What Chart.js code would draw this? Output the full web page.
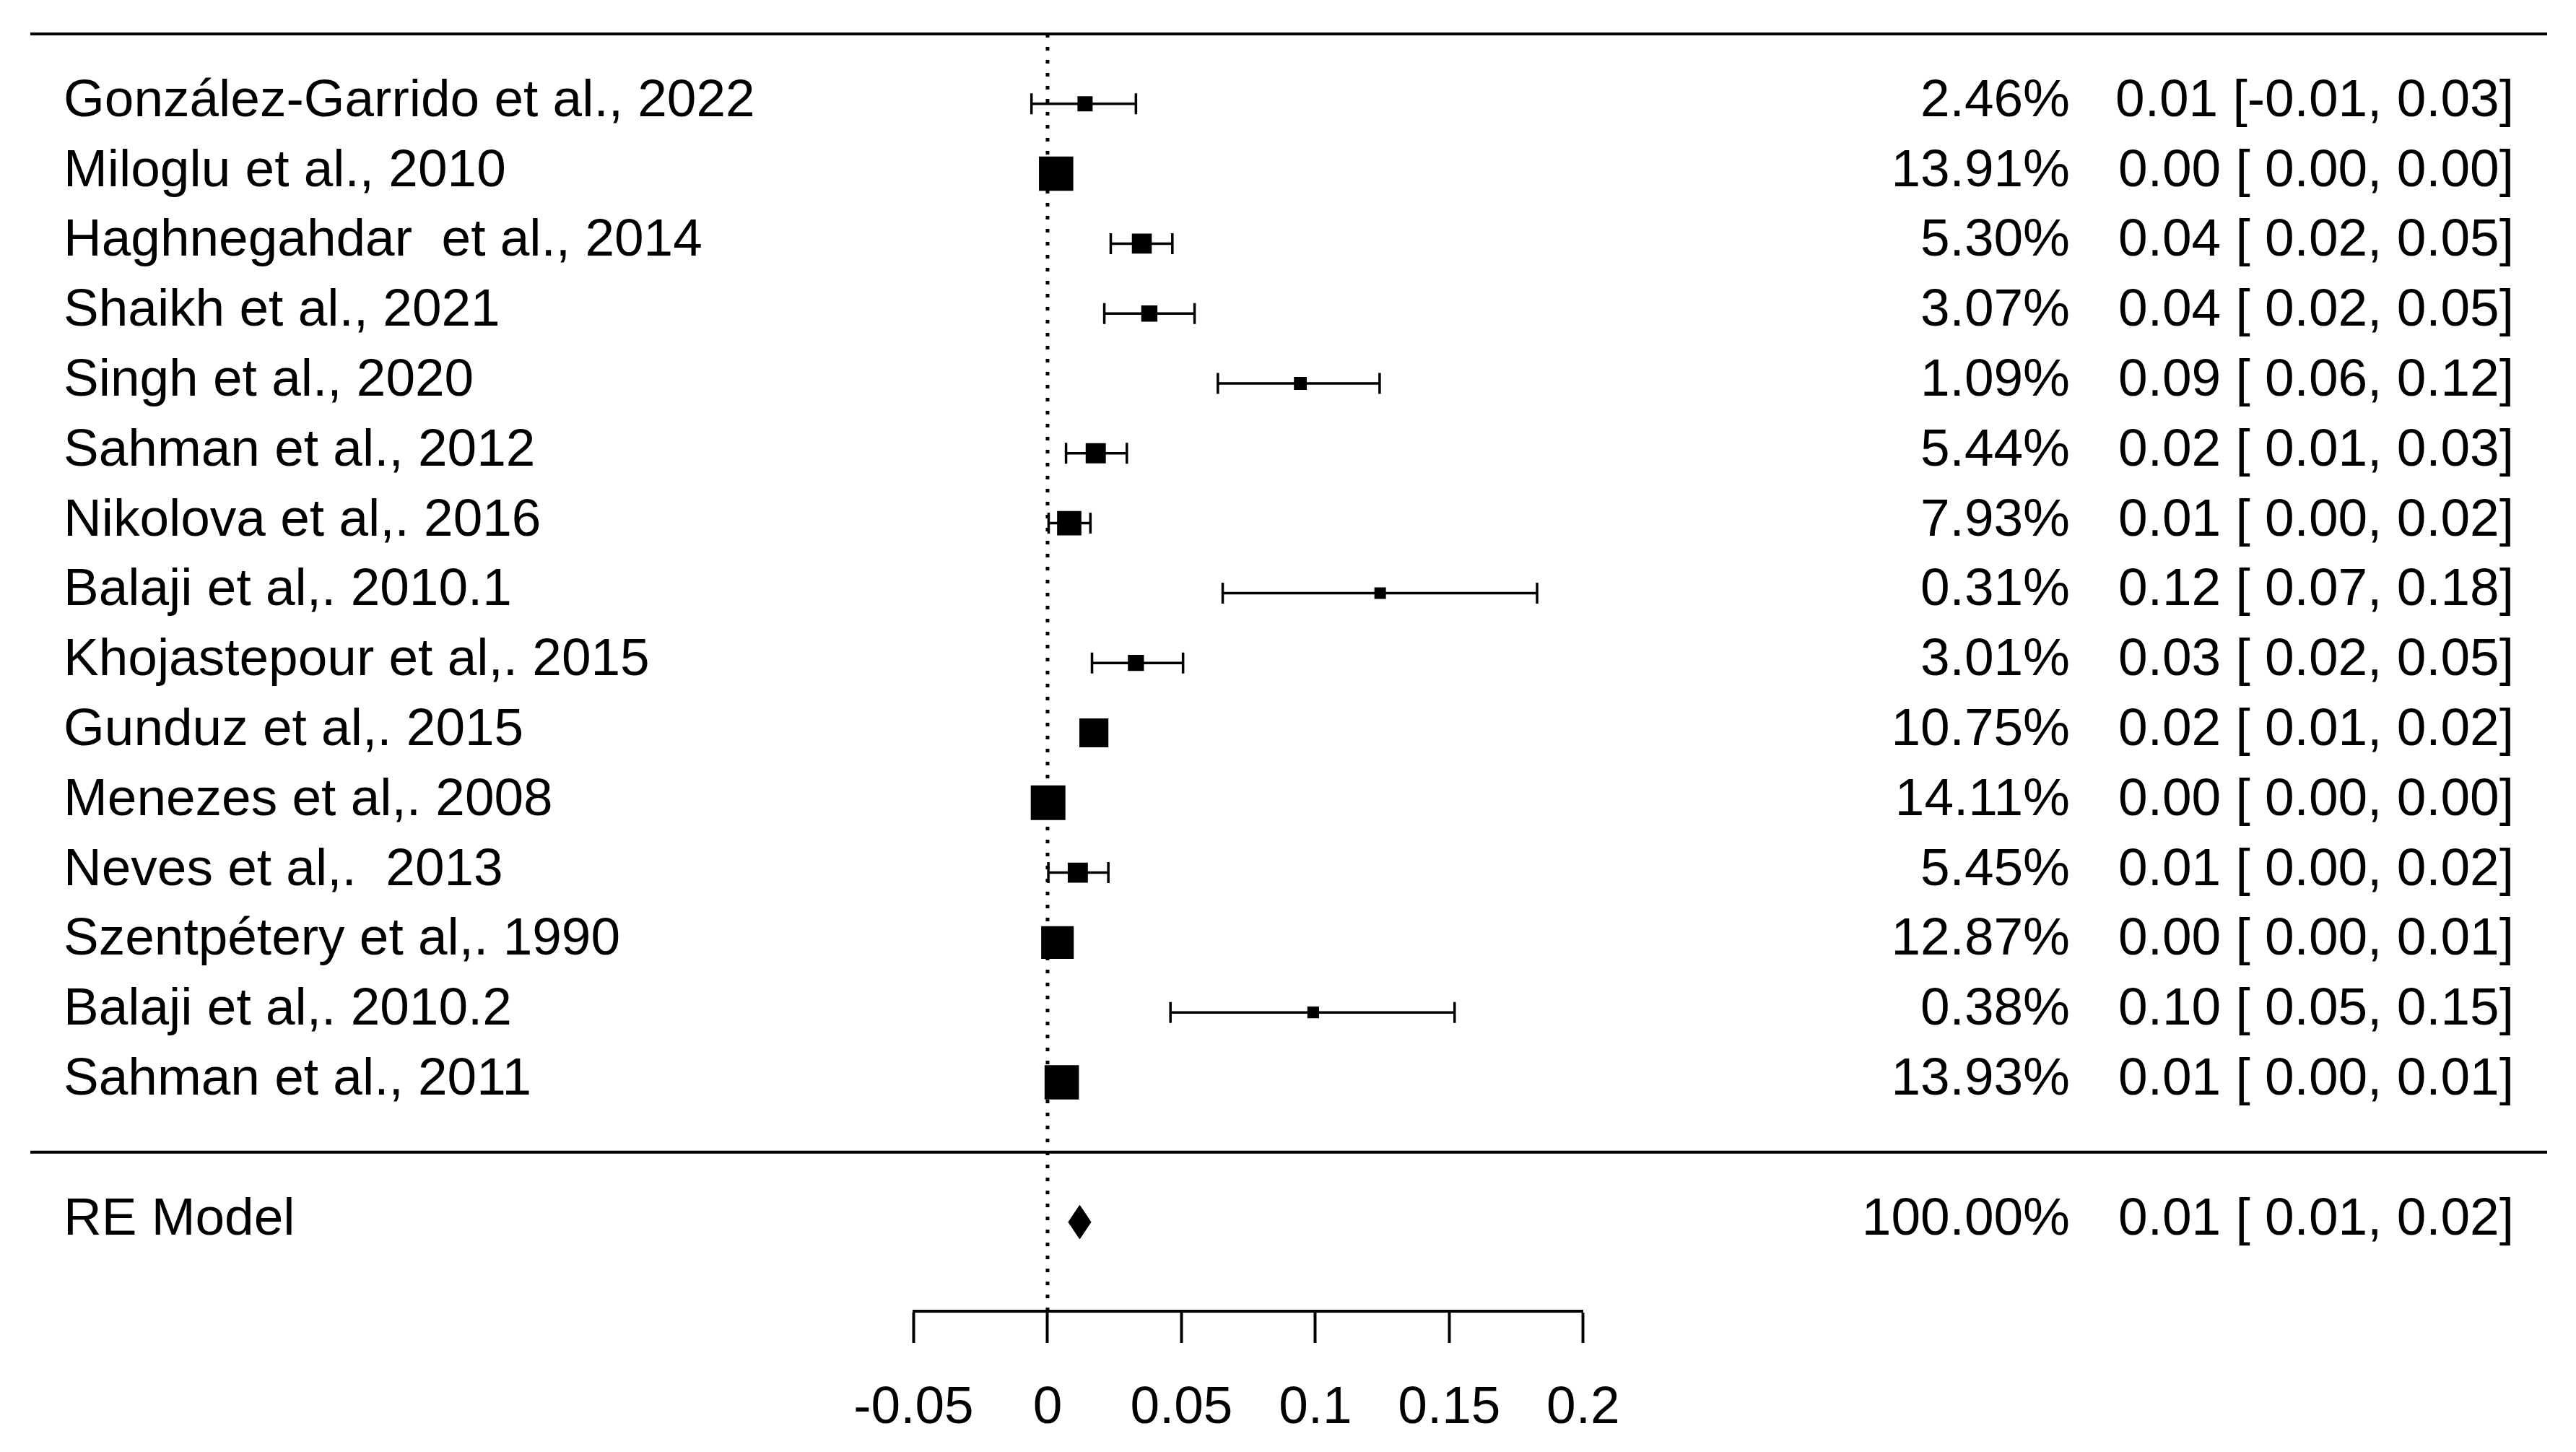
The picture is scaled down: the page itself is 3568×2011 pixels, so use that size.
<!DOCTYPE html>
<html>
<head>
<meta charset="utf-8">
<title>Forest plot</title>
<script src="https://cdn.jsdelivr.net/npm/chart.js@4.4.0/dist/chart.umd.min.js"></script>
<style>
  html, body { margin: 0; padding: 0; background: #fff; }
  #wrap { width: 3568px; height: 2011px; position: relative; }
</style>
</head>
<body>
<div id="wrap"><canvas id="forest"></canvas></div>
<script>
// studies, top to bottom
const studies = [
  'González-Garrido et al., 2022',
  'Miloglu et al., 2010',
  'Haghnegahdar  et al., 2014',
  'Shaikh et al., 2021',
  'Singh et al., 2020',
  'Sahman et al., 2012',
  'Nikolova et al,. 2016',
  'Balaji et al,. 2010.1',
  'Khojastepour et al,. 2015',
  'Gunduz et al,. 2015',
  'Menezes et al,. 2008',
  'Neves et al,.  2013',
  'Szentpétery et al,. 1990',
  'Balaji et al,. 2010.2',
  'Sahman et al., 2011'
];
const weights   = [2.46, 13.91, 5.30, 3.07, 1.09, 5.44, 7.93, 0.31, 3.01, 10.75, 14.11, 5.45, 12.87, 0.38, 13.93];
const estimates = [0.014, 0.0032, 0.0352, 0.038, 0.0944, 0.018, 0.0081, 0.1242, 0.033, 0.0173, 0.0002, 0.0113, 0.0037, 0.0992, 0.0053];
const ciLower   = [-0.006, 0.0015, 0.0236, 0.0212, 0.0636, 0.0069, 0.0004, 0.0654, 0.0166, 0.0128, 0.0, 0.0003, 0.001, 0.0459, 0.0022];
const ciUpper   = [0.033, 0.0045, 0.0466, 0.0549, 0.124, 0.0296, 0.016, 0.1828, 0.0506, 0.0215, 0.0005, 0.0227, 0.0065, 0.152, 0.0085];

// pooled random-effects estimate
const summaryLabel = 'RE Model';
const summaryWeight = 100.00;
const summaryEst = 0.012;
const summaryLower = 0.0078;
const summaryUpper = 0.0162;

const xTicks = [-0.05, 0, 0.05, 0.1, 0.15, 0.2];
const xTickLabels = ['-0.05', '0', '0.05', '0.1', '0.15', '0.2'];
const refValue = 0;

// layout (pixels / row units)
const FONT = '"Liberation Sans", Arial, Helvetica, sans-serif';
const FONT_SIZE = 73;
const yMin = -2.275, yMax = 16;
const summaryRow = -1;
const rows = studies.map((s, i) => studies.length - i);
const LABEL_X = 88, WEIGHT_RIGHT = 2867, CI_RIGHT = 3482;
const RULE_LEFT = 42, RULE_RIGHT = 3528;
const TEXT_DROP = 17;

const minW = Math.min(...weights), maxW = Math.max(...weights);
const boxSide = (w) => 16 + (w - minW) / (maxW - minW) * 32;

const f2 = (v) => v.toFixed(2);
const ciText = (est, lo, hi) => f2(est) + ' [' + (lo < 0 ? '' : ' ') + f2(lo) + ', ' + f2(hi) + ']';

const ciSets = studies.map((s, i) => ({
  data: [{ x: ciLower[i], y: rows[i] }, { x: ciUpper[i], y: rows[i] }],
  showLine: true,
  borderColor: '#000',
  borderWidth: 3.5,
  pointStyle: 'line',
  pointRotation: 90,
  pointRadius: 14.5,
  pointBorderWidth: 3.5,
  pointBorderColor: '#000',
  order: 1
}));

const dh = 0.24;
const datasets = [
  {
    label: 'estimates',
    data: studies.map((s, i) => ({ x: estimates[i], y: rows[i] })),
    pointStyle: 'rect',
    pointRadius: (ctx) => boxSide(weights[ctx.dataIndex]) / Math.SQRT2,
    pointBackgroundColor: '#000',
    pointBorderWidth: 0,
    order: 0
  },
  {
    label: 'summary',
    data: [
      { x: summaryLower, y: summaryRow },
      { x: summaryEst, y: summaryRow + dh },
      { x: summaryUpper, y: summaryRow },
      { x: summaryEst, y: summaryRow - dh },
      { x: summaryLower, y: summaryRow }
    ],
    showLine: true,
    fill: 'shape',
    backgroundColor: '#000',
    borderColor: '#000',
    borderWidth: 1,
    pointRadius: 0,
    order: 0
  },
  ...ciSets,
  {
    label: 'reference',
    data: [{ x: refValue, y: yMax }, { x: refValue, y: yMin }],
    showLine: true,
    borderColor: '#000',
    borderWidth: 5,
    borderDash: [5, 13],
    pointRadius: 0,
    order: 2
  }
];

const forestText = {
  id: 'forestText',
  afterDraw(chart) {
    const { ctx } = chart;
    const y = chart.scales.y;
    ctx.save();
    ctx.fillStyle = '#000';
    ctx.strokeStyle = '#000';
    ctx.font = FONT_SIZE + 'px ' + FONT;
    ctx.textBaseline = 'alphabetic';

    const put = (label, w, est, lo, hi, row) => {
      const py = y.getPixelForValue(row) + TEXT_DROP;
      ctx.textAlign = 'left';
      ctx.fillText(label, LABEL_X, py);
      ctx.textAlign = 'right';
      ctx.fillText(f2(w) + '%', WEIGHT_RIGHT, py);
      ctx.fillText(ciText(est, lo, hi), CI_RIGHT, py);
    };
    studies.forEach((s, i) => put(s, weights[i], estimates[i], ciLower[i], ciUpper[i], rows[i]));
    put(summaryLabel, summaryWeight, summaryEst, summaryLower, summaryUpper, summaryRow);

    ctx.lineWidth = 4;
    [yMax, 0].forEach((r) => {
      const py = y.getPixelForValue(r);
      ctx.beginPath();
      ctx.moveTo(RULE_LEFT, py);
      ctx.lineTo(RULE_RIGHT, py);
      ctx.stroke();
    });
    ctx.restore();
  }
};

new Chart(document.getElementById('forest'), {
  type: 'scatter',
  data: { datasets },
  plugins: [forestText],
  options: {
    responsive: true,
    maintainAspectRatio: false,
    animation: false,
    events: [],
    layout: { padding: { left: 1265.5, right: 1375.2, top: 47, bottom: 0 } },
    plugins: { legend: { display: false }, tooltip: { enabled: false } },
    scales: {
      x: {
        type: 'linear',
        min: -0.05,
        max: 0.2,
        afterBuildTicks: (axis) => { axis.ticks = xTicks.map((v) => ({ value: v })); },
        afterFit: (axis) => { axis.height = 195; },
        ticks: {
          callback: (v, i) => xTickLabels[i],
          font: { family: FONT, size: FONT_SIZE },
          color: '#000',
          padding: 47,
          maxRotation: 0,
          autoSkip: false
        },
        grid: {
          display: true,
          drawOnChartArea: false,
          drawTicks: true,
          tickLength: 44,
          tickWidth: 4,
          tickColor: '#000'
        },
        border: { display: true, color: '#000', width: 4 }
      },
      y: { type: 'linear', min: yMin, max: yMax, display: false }
    }
  }
});
</script>
</body>
</html>
